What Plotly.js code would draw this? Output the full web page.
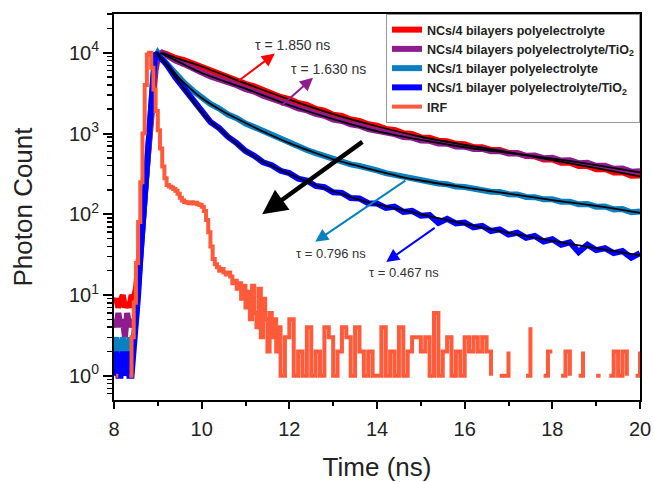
<!DOCTYPE html>
<html><head><meta charset="utf-8">
<script src="https://cdn.plot.ly/plotly-3.0.1.min.js"></script>
<style>html,body{margin:0;padding:0;background:#fff;}#chart{width:654px;height:482px;}</style>
</head><body><div id="chart"></div>
<script>
const FONT = 'Liberation Sans, Arial, Helvetica, sans-serif';

// measured decay data (time in ns, photon counts)
const tData = [8.00,8.05,8.10,8.15,8.20,8.25,8.30,8.35,8.40,8.45,
  8.50,8.55,8.60,8.65,8.70,8.75,8.80,8.85,8.90,8.95,
  9.0,9.1,
  9.2,9.4,9.6,9.8,10.0,10.2,10.4,10.6,10.8,11.0,
  11.2,11.4,11.6,11.8,12.0,12.2,12.4,12.6,12.8,13.0,
  13.2,13.4,13.6,13.8,14.0,14.2,14.4,14.6,14.8,15.0,
  15.2,15.4,15.6,15.8,16.0,16.2,16.4,16.6,16.8,17.0,
  17.2,17.4,17.6,17.8,18.0,18.2,18.4,18.6,18.8,19.0,
  19.2,19.4,19.6,19.8,20.0];

const red4 = [8,9,7,9,10,7,8,7,10,9,
  12,22,45,100,220,480,1000,2000,3800,6200,
  8500,10000,
  9650,8640,8120,7350,6830,6090,5640,5010,4650,4120,
  3850,3440,3190,2840,2670,2390,2260,2020,1920,1710,
  1650,1490,1430,1300,1255,1140,1110,1010,985,895,
  885,815,805,745,738,680,678,626,625,576,
  574,526,522,478,478,436,436,396,398,362,
  364,330,332,300,302];

const purple4 = [5,4,6,4,5,3,6,4,5,4,
  6,14,35,85,200,450,1000,2100,4200,7000,
  9500,10000,
  9200,8020,7230,6290,5680,5090,4750,4260,3970,3550,
  3310,2940,2730,2430,2270,2045,1935,1745,1660,1490,
  1430,1300,1250,1135,1085,1005,982,905,890,818,
  812,752,748,692,688,642,646,602,606,564,
  568,529,533,495,500,462,465,429,433,398,
  400,366,369,337,340];

const teal1 = [2,3,1,2,3,2,1,3,2,3,
  5,12,30,80,200,480,1100,2500,5200,8800,
  10000,8400,
  7300,5550,4250,3400,2780,2330,2040,1720,1550,1330,
  1200,1070,945,880,770,690,625,572,528,475,
  452,415,396,364,349,323,306,288,278,258,
  254,240,235,220,218,206,202,190,189,177,
  176,164,163,153,153,143,143,133,134,124,
  125,115,116,106,108];

const blue1 = [1,2,1,1,2,1,2,1,1,2,
  4,10,28,75,190,460,1100,2600,5500,10000,
  9300,8200,
  7150,4950,3620,2520,1880,1390,1170,910,760,608,
  530,441,406,345,323,276,262,224,216,187,
  184,159,157,137,136,120,124,107,110,96,
  98,78,88,77,79,69,72,62,65,56,
  59,51,54,46,49,42,45,34,42,36,
  38,33,35,29,33];

// instrument response function
const irfT = [8.00,8.05,8.10,8.15,8.20,8.25,8.30,8.35,8.40,8.45,
  8.50,8.55,8.60,8.65,8.70,8.75,8.80,8.85,8.90,8.95,
  9.00,9.05,9.10,9.15,9.20,9.25,9.30,9.35,9.40,9.45,
  9.50,9.55,9.60,9.65,9.70,9.75,9.80,9.85,9.90,9.95,
  10.00,10.05,10.10,10.15,10.20,10.25,10.30,10.35,10.40,10.45,
  10.50,10.55,10.60,10.65,10.70,10.75,10.80,10.85,10.90,10.95,
  11.00,11.05,11.10,11.15,11.20,11.25,11.30,11.35,11.40,11.45,
  11.50,11.55,11.60,11.65,11.70,11.75,
  11.8,11.9,12.0,12.1,12.2,12.3,12.4,12.5,12.6,12.7,
  12.8,12.9,13.0,13.1,13.2,13.3,13.4,13.5,13.6,13.7,
  13.8,13.9,14.0,14.1,14.2,14.3,14.4,14.5,14.6,14.7,
  14.8,14.9,15.0,15.1,15.2,15.3,15.4,15.5,15.6,15.7,
  15.8,15.9,16.0,16.1,16.2,16.3,16.4,16.5,16.6,16.7,
  16.8,16.9,17.0,17.1,17.2,17.3,17.4,17.5,17.6,17.7,
  17.8,17.9,18.0,18.1,18.2,18.3,18.4,18.5,18.6,18.7,
  18.8,18.9,19.0,19.1,19.2,19.3,19.4,19.5,19.6,19.7,
  19.8,19.9,20.0];
const irfVals = [null,1,1,null,null,null,null,1,3,8,
  25,80,250,1000,4000,9500,10000,6500,3500,1900,
  1100,650,390,280,230,220,215,205,195,180,
  160,148,142,140,137,141,136,139,133,130,
  124,110,85,60,40,28,24,22,20,21,
  19,18,19,17,14,15,12,14,9,13,
  7,11,5,13,6,4,12,3,9,5,
  2,6,3,5,2,4,
  1,3,5,1,2,1,4,1,2,1,
  4,3,1,2,4,3,1,4,2,1,
  2,1,1,4,1,2,1,4,1,2,
  3,3,2,3,1,6,1,2,3,1,
  2,1,3,2,3,2,3,2,1,null,
  1,1,2,null,null,null,1,4,null,null,
  1,2,2,null,1,2,1,null,1,2,
  null,null,1,1,null,1,2,1,2,1,
  null,1,2];

// fitted curves
const fitRedT = [9.1,9.5,10,11,12,13,14,15,16,17,18,19,20];
const fitRed  = [10000,8320,6760,4170,2630,1740,1230,912,724,589,468,372,295];
const fitPurT = [9.05,9.5,10,11,12,13,14,15,16,17,18,19,20];
const fitPur  = [10000,7590,5620,3590,2240,1510,1070,832,676,575,490,407,331];
const fitTealT = [8.98,9.2,9.5,10,10.5,11,11.5,12,12.5,13,13.5,14,14.5,15,16,17,18,19,20];
const fitTeal  = [10000,7240,4790,2750,1860,1350,1000,760,600,480,405,345,295,262,215,180,150,127,104];
const fitBlueT = [8.95,9.2,9.44,9.7,9.96,10.2,10.42,10.87,11.3,11.79,12.25,12.7,13.2,13.61,14,14.53,15,16,17,18,19,20];
const fitBlue  = [10000,7080,4680,3020,1950,1410,1120,692,479,355,275,219,178,151,132,115,100,75.9,58.9,46.8,38.0,30.9];

const names = ['NCs/4 bilayers polyelectrolyte','NCs/4 bilayers polyelectrolyte/TiO<sub>2</sub>',
  'NCs/1 bilayer polyelectrolyte','NCs/1 bilayer polyelectrolyte/TiO<sub>2</sub>','IRF'];
const colors = ['#FF0000','#8E1C8E','#0A80C0','#0000FF','#FF5A3A'];
const dataSeries = [red4, purple4, teal1, blue1];

const traces = [];
dataSeries.forEach((v,i)=>{
  traces.push({x:tData, y:v, type:'scatter', mode:'lines', name:names[i],
    line:{color:colors[i], width:6}, hoverinfo:'skip'});
});
traces.push({x:irfT, y:irfVals, type:'scatter', mode:'lines', name:names[4],
  line:{color:colors[4], width:4, shape:'hv'}, connectgaps:false});
[[fitRedT,fitRed],[fitPurT,fitPur],[fitTealT,fitTeal],[fitBlueT,fitBlue]].forEach(([x,y])=>{
  traces.push({x:x, y:y, type:'scatter', mode:'lines', showlegend:false,
    line:{color:'#000', width:1.8, shape:'spline', smoothing:0.8}});
});

const yMinor = [0.6,0.7,0.8,0.9,2,3,4,5,6,7,8,9,20,30,40,50,60,70,80,90,
  200,300,400,500,600,700,800,900,2000,3000,4000,5000,6000,7000,8000,9000,20000,30000];

function txt(x,y,t,size){return {x:x,y:y,xref:'x',yref:'y',text:t,showarrow:false,
  font:{family:FONT,size:size,color:'#333'}};}
function arr(x,y,ax,ay,c,w,s){return {x:x,y:y,ax:ax,ay:ay,xref:'x',yref:'y',axref:'x',ayref:'y',
  text:'',showarrow:true,arrowcolor:c,arrowwidth:w,arrowhead:2,arrowsize:s};}

const layout = {
  width:654, height:482,
  margin:{l:114, r:14, t:14, b:82},
  paper_bgcolor:'#fff', plot_bgcolor:'#fff',
  font:{family:FONT, color:'#222'},
  showlegend:true,
  legend:{x:1, xanchor:'right', y:1, yanchor:'top', bgcolor:'#fff',
    bordercolor:'#999', borderwidth:1, itemwidth:30,
    font:{family:FONT, size:12.5, color:'#222', weight:700}, tracegroupgap:0},
  xaxis:{range:[8,20], tickvals:[8,10,12,14,16,18,20], ticks:'outside', ticklen:7, tickwidth:2,
    tickcolor:'#000', showline:true, linewidth:2, linecolor:'#000', mirror:true,
    showgrid:false, zeroline:false, tickfont:{family:FONT, size:20, color:'#222'},
    ticklabelstandoff:3,
    minor:{tickvals:[9,11,13,15,17,19], ticks:'outside', ticklen:4, tickwidth:2, tickcolor:'#000', showgrid:false},
    title:{text:'Time (ns)', font:{family:FONT, size:26, color:'#222'}, standoff:19}},
  yaxis:{type:'log', range:[-0.3,4.48], tickvals:[1,10,100,1000,10000],
    ticktext:['10<sup>0</sup>','10<sup>1</sup>','10<sup>2</sup>','10<sup>3</sup>','10<sup>4</sup>'],
    ticks:'outside', ticklen:9, tickwidth:2, tickcolor:'#000', showline:true, linewidth:2,
    linecolor:'#000', mirror:true, showgrid:false, zeroline:false,
    tickfont:{family:FONT, size:20, color:'#222'},
    minor:{tickvals:yMinor, ticks:'outside', ticklen:5, tickwidth:1.5, tickcolor:'#000', showgrid:false},
    title:{text:'Photon Count', font:{family:FONT, size:26, color:'#222'}, standoff:29}},
  annotations:[
    txt(12.08,4.10,'τ = 1.850 ns',14),
    txt(12.9,3.80,'τ = 1.630 ns',14),
    txt(12.95,1.51,'τ = 0.796 ns',13),
    txt(14.62,1.275,'τ = 0.467 ns',13),
    arr(11.67,3.99,10.81,3.64,colors[0],2,1.3),
    arr(12.54,3.69,11.79,3.33,colors[1],2,1.3),
    arr(12.59,1.66,14.68,2.43,colors[2],2,1.3),
    arr(14.21,1.41,15.35,1.845,colors[3],2,1.3),
    arr(11.38,2.0,13.70,2.91,'#000',4.5,1.1)
  ]
};
Plotly.newPlot('chart', traces, layout, {displayModeBar:false, staticPlot:true});
</script></body></html>
